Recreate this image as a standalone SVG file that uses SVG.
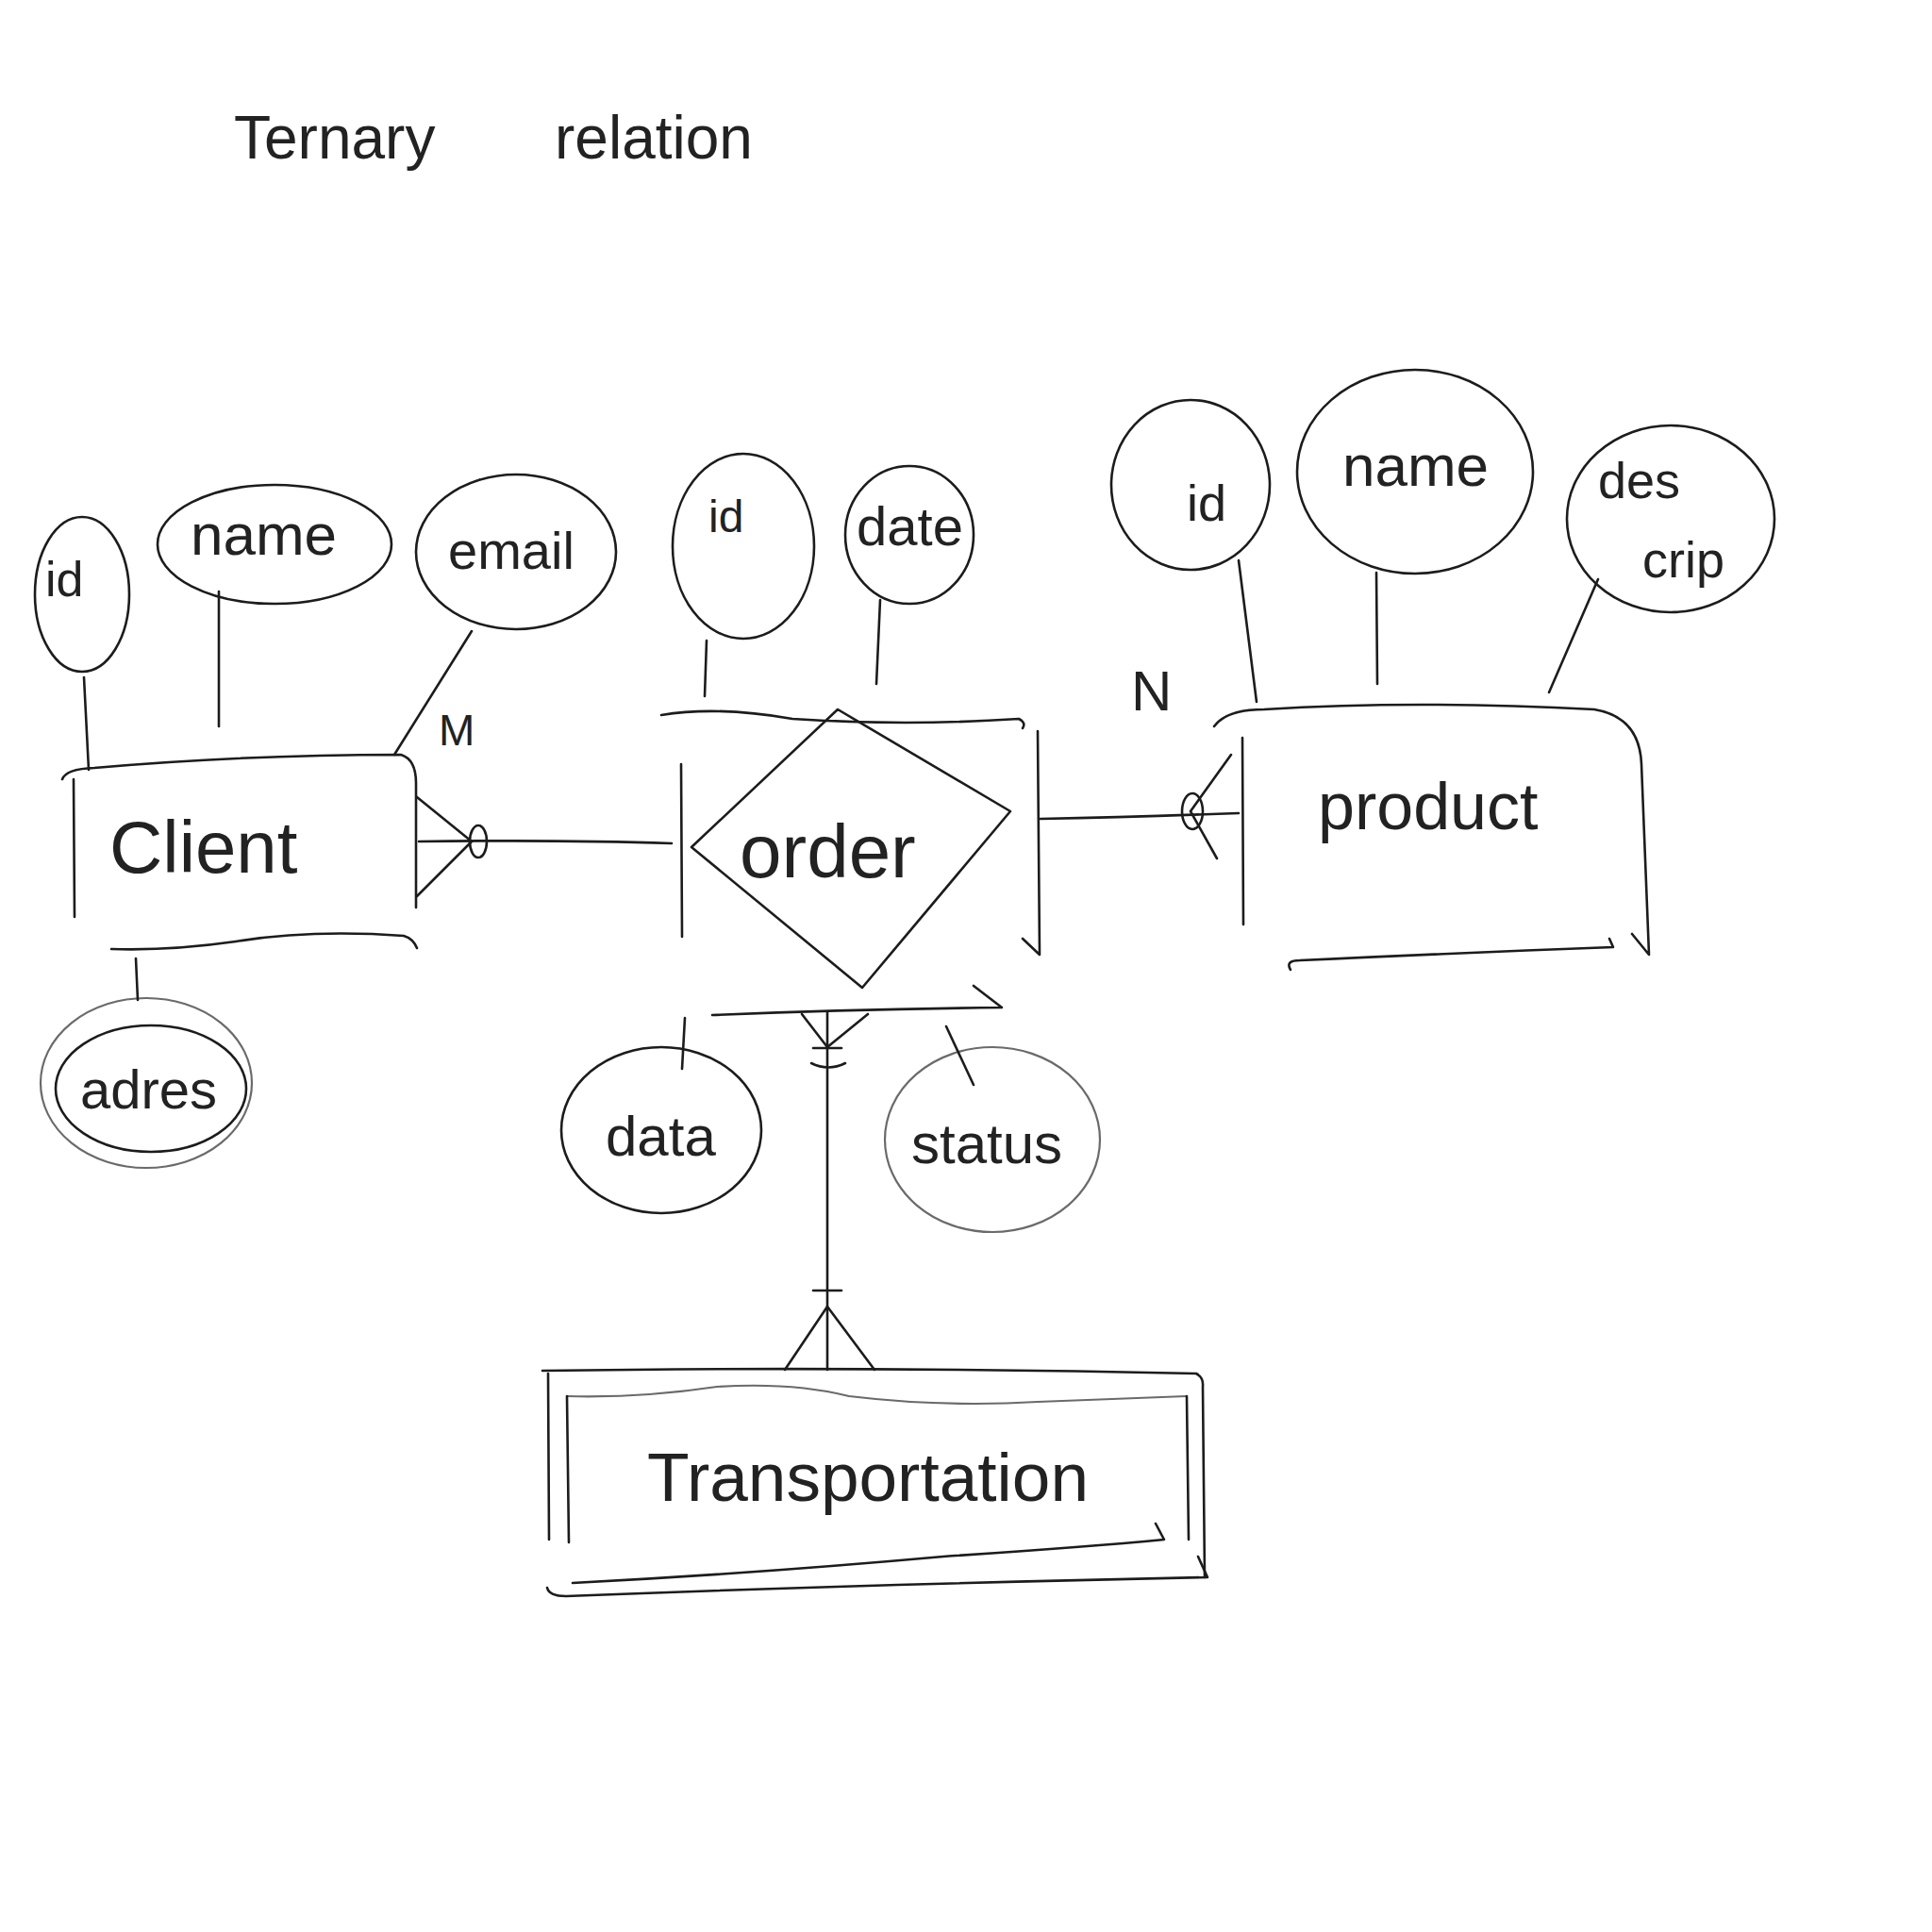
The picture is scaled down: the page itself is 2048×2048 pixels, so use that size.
<svg xmlns="http://www.w3.org/2000/svg" width="2048" height="2048" viewBox="0 0 2048 2048">
<style>
.s{fill:none;stroke:#1c1c1c;stroke-width:2.6;stroke-linecap:round;stroke-linejoin:round}
.g{fill:none;stroke:#6a6a6a;stroke-width:2.2;stroke-linecap:round}
.t{font-family:"Liberation Sans",Arial,sans-serif;fill:#222}
</style>
<rect width="2048" height="2048" fill="#fff"/>
<text class="t" x="248" y="168" font-size="64">Ternary<tspan x="588">relation</tspan></text>

<g id="client">
<path class="s" d="M66 826 Q70 815 100 814 Q260 800 425 800 Q441 805 441 830 L441 962"/>
<path class="s" d="M78 826 L79 972"/>
<path class="s" d="M118 1006 Q180 1008 250 998 Q330 985 428 992 Q438 995 442 1005"/>
<text class="t" x="116" y="925" font-size="78">Client</text>
</g>
<g id="client-id">
<ellipse class="s" cx="87" cy="630" rx="50" ry="82"/>
<text class="t" x="48" y="632" font-size="52">id</text>
</g>
<g id="client-name">
<ellipse class="s" cx="291" cy="577" rx="124" ry="63"/>
<text class="t" x="202" y="588" font-size="62">name</text>
</g>
<g id="client-email">
<ellipse class="s" cx="547" cy="585" rx="106" ry="82"/>
<text class="t" x="475" y="603" font-size="56">email</text>
</g>
<g id="client-adres">
<ellipse class="g" cx="155" cy="1148" rx="112" ry="90"/>
<ellipse class="s" cx="160" cy="1154" rx="101" ry="67"/>
<text class="t" x="85" y="1175" font-size="58">adres</text>
</g>

<g id="order">
<path class="s" d="M701 758 Q760 748 840 762 Q960 770 1080 762 Q1088 766 1084 772"/>
<path class="s" d="M722 810 L723 993"/>
<path class="s" d="M1100 775 L1102 1012 L1084 995"/>
<path class="s" d="M755 1076 Q900 1070 1062 1068 L1032 1045"/>
<path class="s" d="M888 752 L1071 860 L914 1047 L733 898 Z"/>
<text class="t" x="784" y="930" font-size="80">order</text>
</g>
<g id="order-id">
<ellipse class="s" cx="788" cy="579" rx="75" ry="98"/>
<text class="t" x="751" y="564" font-size="48">id</text>
</g>
<g id="order-date">
<ellipse class="s" cx="964" cy="567" rx="68" ry="73"/>
<text class="t" x="908" y="578" font-size="58">date</text>
</g>
<g id="order-data">
<ellipse class="s" cx="701" cy="1198" rx="106" ry="88"/>
<text class="t" x="642" y="1225" font-size="60">data</text>
</g>
<g id="order-status">
<ellipse class="g" cx="1052" cy="1208" rx="114" ry="98"/>
<text class="t" x="966" y="1233" font-size="60">status</text>
</g>

<g id="product">
<path class="s" d="M1287 770 Q1300 752 1340 752 Q1500 742 1690 752 Q1738 760 1740 810 L1748 1012 L1730 990"/>
<path class="s" d="M1317 782 L1318 980"/>
<path class="s" d="M1368 1028 Q1362 1018 1378 1018 Q1550 1010 1710 1004 L1706 995"/>
<text class="t" x="1397" y="879" font-size="70">product</text>
</g>
<g id="product-id">
<ellipse class="s" cx="1262" cy="514" rx="84" ry="90"/>
<text class="t" x="1258" y="552" font-size="54">id</text>
</g>
<g id="product-name">
<ellipse class="s" cx="1500" cy="500" rx="125" ry="108"/>
<text class="t" x="1423" y="515" font-size="62">name</text>
</g>
<g id="product-descrip">
<ellipse class="s" cx="1771" cy="550" rx="110" ry="99"/>
<text class="t" x="1694" y="528" font-size="54">des</text>
<text class="t" x="1741" y="612" font-size="54">crip</text>
</g>

<g id="transportation">
<path class="s" d="M575 1453 Q900 1448 1268 1456 Q1276 1460 1275 1470 L1277 1672"/>
<path class="s" d="M581 1456 L582 1632"/>
<path class="g" d="M601 1480 Q680 1482 760 1470 Q840 1465 900 1480 Q1000 1492 1100 1486 L1258 1480"/>
<path class="s" d="M601 1480 L603 1635"/>
<path class="s" d="M1258 1480 L1260 1632"/>
<path class="s" d="M607 1678 Q800 1668 1000 1650 Q1150 1640 1234 1632 L1225 1615"/>
<path class="s" d="M580 1683 Q582 1692 600 1692 Q900 1680 1280 1672 L1270 1650"/>
<text class="t" x="686" y="1591" font-size="73">Transportation</text>
</g>

<g id="connectors">
<line class="s" x1="89" y1="718" x2="94" y2="816"/>
<line class="s" x1="232" y1="627" x2="232" y2="770"/>
<line class="s" x1="500" y1="669" x2="418" y2="800"/>
<line class="s" x1="144" y1="1016" x2="146" y2="1060"/>
<line class="s" x1="749" y1="679" x2="747" y2="738"/>
<line class="s" x1="933" y1="636" x2="929" y2="725"/>
<line class="s" x1="726" y1="1079" x2="723" y2="1133"/>
<line class="s" x1="1003" y1="1088" x2="1032" y2="1150"/>
<line class="s" x1="1313" y1="594" x2="1332" y2="744"/>
<line class="s" x1="1459" y1="607" x2="1460" y2="725"/>
<line class="s" x1="1694" y1="614" x2="1642" y2="734"/>

<path class="s" d="M444 892 Q600 890 712 894"/>
<path class="s" d="M500 892 L442 845 M500 892 L442 950"/>
<ellipse class="s" cx="507" cy="892" rx="9" ry="17"/>
<text class="t" x="465" y="790" font-size="46">M</text>

<path class="s" d="M1103 868 Q1200 866 1313 862"/>
<path class="s" d="M1262 860 L1305 800 M1262 860 L1290 910"/>
<ellipse class="s" cx="1264" cy="860" rx="11" ry="19"/>
<text class="t" x="1199" y="753" font-size="60">N</text>

<line class="s" x1="877" y1="1073" x2="877" y2="1452"/>
<path class="s" d="M877 1110 L850 1075 M877 1110 L920 1075"/>
<line class="s" x1="862" y1="1111" x2="892" y2="1111"/>
<path class="s" d="M860 1127 Q878 1136 896 1127"/>
<line class="s" x1="862" y1="1368" x2="892" y2="1368"/>
<path class="s" d="M877 1385 L832 1452 M877 1385 L927 1452"/>
</g>
</svg>
